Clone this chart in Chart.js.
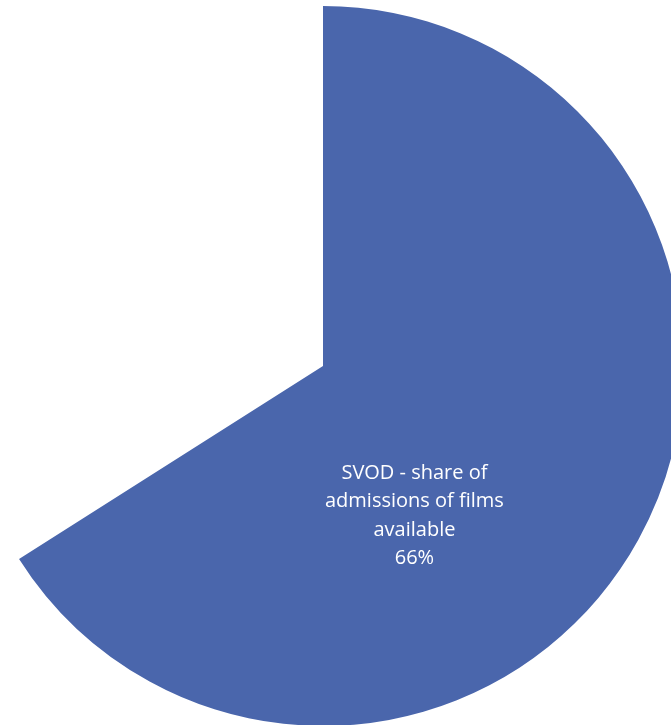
<!DOCTYPE html>
<html>
<head>
<meta charset="utf-8">
<script src="https://cdn.jsdelivr.net/npm/chart.js@4"></script>
<style>
  html, body { margin: 0; padding: 0; width: 671px; height: 725px; overflow: hidden; background: #ffffff; }
  #wrap { position: absolute; left: -77px; top: -34px; width: 800px; height: 800px; }
</style>
</head>
<body>
<div id="wrap"><canvas id="c"></canvas></div>
<script>
const categories = ["SVOD - share of admissions of films available", "Other"];
const values = [66, 34];
const labelLines = ["SVOD - share of", "admissions of films", "available", "66%"];
const sliceColors = ["#4A66AC", "rgba(0,0,0,0)"];

const labelPlugin = {
  id: 'sliceLabel',
  afterDatasetsDraw(chart) {
    const arc = chart.getDatasetMeta(0).data[0];
    if (!arc) return;
    const ctx = chart.ctx;
    const r = arc.outerRadius;
    const cx = arc.x + r * 0.254;
    const cy = arc.y + r * 0.416;
    const lh = 28.5;
    ctx.save();
    ctx.fillStyle = '#ffffff';
    ctx.font = '20px "Open Sans"';
    ctx.textAlign = 'center';
    ctx.textBaseline = 'middle';
    const n = labelLines.length;
    labelLines.forEach((t, i) => {
      ctx.fillText(t, cx, cy + (i - (n - 1) / 2) * lh);
    });
    ctx.restore();
  }
};

new Chart(document.getElementById('c'), {
  type: 'pie',
  data: {
    labels: categories,
    datasets: [{
      data: values,
      backgroundColor: sliceColors,
      borderWidth: 0
    }]
  },
  options: {
    responsive: true,
    maintainAspectRatio: false,
    animation: false,
    layout: { padding: 40 },
    plugins: {
      legend: { display: false },
      tooltip: { enabled: false }
    }
  },
  plugins: [labelPlugin]
});
</script>
</body>
</html>
